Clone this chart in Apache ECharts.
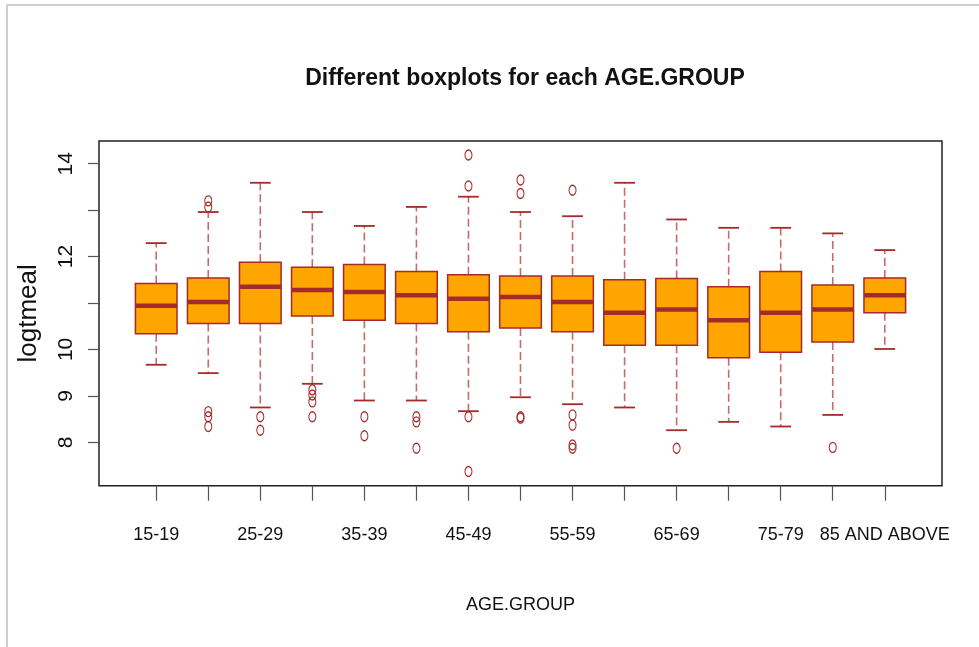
<!DOCTYPE html>
<html>
<head>
<meta charset="utf-8">
<script src="https://cdn.jsdelivr.net/npm/echarts@6/dist/echarts.min.js"></script>
<style>
  html, body { margin: 0; padding: 0; background: #ffffff; }
  #chart { width: 979px; height: 647px; }
</style>
</head>
<body>
<div id="chart"></div>
<script>
// ---- data ----
const categories = ['15-19','20-24','25-29','30-34','35-39','40-44','45-49','50-54','55-59','60-64','65-69','70-74','75-79','80-84','85 AND ABOVE'];
const lowWhisker  = [9.67, 9.49, 8.75, 9.26, 8.90, 8.90, 8.67, 8.97, 8.82, 8.75, 8.26, 8.44, 8.34, 8.59, 10.01];
const q1          = [10.34, 10.56, 10.56, 10.72, 10.63, 10.56, 10.38, 10.46, 10.38, 10.09, 10.09, 9.82, 9.94, 10.16, 10.79];
const median      = [10.94, 11.02, 11.35, 11.28, 11.24, 11.17, 11.09, 11.13, 11.02, 10.79, 10.86, 10.63, 10.79, 10.86, 11.17];
const q3          = [11.42, 11.54, 11.88, 11.77, 11.83, 11.68, 11.61, 11.58, 11.58, 11.50, 11.53, 11.35, 11.68, 11.39, 11.54];
const highWhisker = [12.29, 12.96, 13.59, 12.96, 12.66, 13.07, 13.29, 12.96, 12.87, 13.59, 12.80, 12.62, 12.62, 12.50, 12.14];
const outliers = [
  [],
  [13.20, 13.07, 8.66, 8.55, 8.34],
  [8.55, 8.26],
  [9.13, 9.02, 8.87, 8.55],
  [8.55, 8.14],
  [8.55, 8.44, 7.87],
  [14.19, 13.52, 8.55, 7.37],
  [13.65, 13.36, 8.55, 8.52],
  [13.43, 8.59, 8.37, 7.94, 7.87],
  [],
  [7.87],
  [],
  [],
  [7.89],
  []
];
const yTickLabels = [8, 9, 10, 12, 14];

// ---- styling ----
const BROWN = '#A52A2A';
const WHISKER = '#c86a6a';
const ORANGE = '#FFA500';
const FONT = '"Liberation Sans", Arial, sans-serif';

const boxData = categories.map((c, i) => [i, lowWhisker[i], q1[i], median[i], q3[i], highWhisker[i]]);
const outlierData = [];
outliers.forEach((list, i) => list.forEach(v => outlierData.push([i, v])));

function renderBox(params, api) {
  const x = api.value(0);
  const pLow = api.coord([x, api.value(1)]);
  const pQ1 = api.coord([x, api.value(2)]);
  const pMed = api.coord([x, api.value(3)]);
  const pQ3 = api.coord([x, api.value(4)]);
  const pHigh = api.coord([x, api.value(5)]);
  const band = api.size([1, 0])[0];
  const bw = band * 0.8;
  const cw = bw / 2;
  const cx = pMed[0];
  const dash = { stroke: WHISKER, lineWidth: 1.6, lineDash: [8, 4] };
  const cap = { stroke: BROWN, lineWidth: 1.8 };
  return {
    type: 'group',
    children: [
      { type: 'line', shape: { x1: cx, y1: pQ3[1], x2: cx, y2: pHigh[1] }, style: dash },
      { type: 'line', shape: { x1: cx, y1: pQ1[1], x2: cx, y2: pLow[1] }, style: dash },
      { type: 'line', shape: { x1: cx - cw / 2, y1: pHigh[1], x2: cx + cw / 2, y2: pHigh[1] }, style: cap },
      { type: 'line', shape: { x1: cx - cw / 2, y1: pLow[1], x2: cx + cw / 2, y2: pLow[1] }, style: cap },
      { type: 'rect', shape: { x: cx - bw / 2, y: pQ3[1], width: bw, height: pQ1[1] - pQ3[1] },
        style: { fill: ORANGE, stroke: BROWN, lineWidth: 1.5 } },
      { type: 'line', shape: { x1: cx - bw / 2, y1: pMed[1], x2: cx + bw / 2, y2: pMed[1] },
        style: { stroke: BROWN, lineWidth: 4.5 } }
    ]
  };
}

const chart = echarts.init(document.getElementById('chart'), null, { renderer: 'canvas' });
const option = {
  backgroundColor: '#ffffff',
  animation: false,
  title: {
    text: 'Different boxplots for each AGE.GROUP',
    left: 520,
    textAlign: 'center',
    top: 62,
    textStyle: { fontFamily: FONT, fontWeight: 'bold', fontSize: 23, color: '#111' }
  },
  graphic: [
    { type: 'polyline', silent: true, shape: { points: [[7, 647], [7, 5], [979, 5]] },
      style: { stroke: '#cfcfcf', lineWidth: 2, fill: null } }
  ],
  grid: [
    // frame
    { left: 99, right: 37, top: 141, bottom: 161.3, show: true, borderColor: '#222', borderWidth: 1.5, backgroundColor: 'transparent' },
    // data area (category bands)
    { left: 130.2, width: 780.6, top: 141, bottom: 161.3 },
    // y ticks 8..14
    { left: 99, width: 10, top: 163.7, bottom: 204.7 }
  ],
  xAxis: [
    { gridIndex: 0, type: 'value', min: 0, max: 1, show: false },
    {
      gridIndex: 1, type: 'category', data: categories,
      name: 'AGE.GROUP', nameLocation: 'middle', nameGap: 110,
      nameTextStyle: { fontFamily: FONT, fontSize: 18, color: '#111' },
      axisLine: { show: false },
      axisTick: { show: true, alignWithLabel: true, interval: 0, length: 15, lineStyle: { color: '#555', width: 1.2 } },
      axisLabel: { interval: function (i) { return i % 2 === 0; }, margin: 40, fontFamily: FONT, fontSize: 18, color: '#111' },
      splitLine: { show: false }
    },
    { gridIndex: 2, type: 'value', min: 0, max: 1, show: false }
  ],
  yAxis: [
    { gridIndex: 0, type: 'value', min: 0, max: 1, show: false },
    {
      gridIndex: 1, type: 'value', min: 7.065, max: 14.49,
      name: 'logtmeal', nameLocation: 'middle', nameGap: 88, nameRotate: 90,
      nameTextStyle: { fontFamily: FONT, fontSize: 26, color: '#111' },
      axisLine: { show: false }, axisTick: { show: false }, axisLabel: { show: false },
      splitLine: { show: false }
    },
    {
      gridIndex: 2, type: 'value', min: 8, max: 14, interval: 1,
      axisLine: { show: false },
      axisTick: { show: true, length: 11, lineStyle: { color: '#555', width: 1.2 } },
      axisLabel: {
        rotate: 90, margin: 22, fontFamily: FONT, fontSize: 21, color: '#111',
        formatter: function (v) { return yTickLabels.indexOf(v) >= 0 ? String(v) : ''; }
      },
      splitLine: { show: false }
    }
  ],
  series: [
    {
      type: 'custom', xAxisIndex: 1, yAxisIndex: 1,
      renderItem: renderBox,
      encode: { x: 0, y: [1, 2, 3, 4, 5] },
      data: boxData, z: 3
    },
    {
      type: 'scatter', xAxisIndex: 1, yAxisIndex: 1,
      symbol: 'circle', symbolSize: [7, 10],
      itemStyle: { color: 'rgba(0,0,0,0)', borderColor: BROWN, borderWidth: 1.2, opacity: 1 },
      data: outlierData, z: 4
    }
  ]
};
chart.setOption(option);
</script>
</body>
</html>
